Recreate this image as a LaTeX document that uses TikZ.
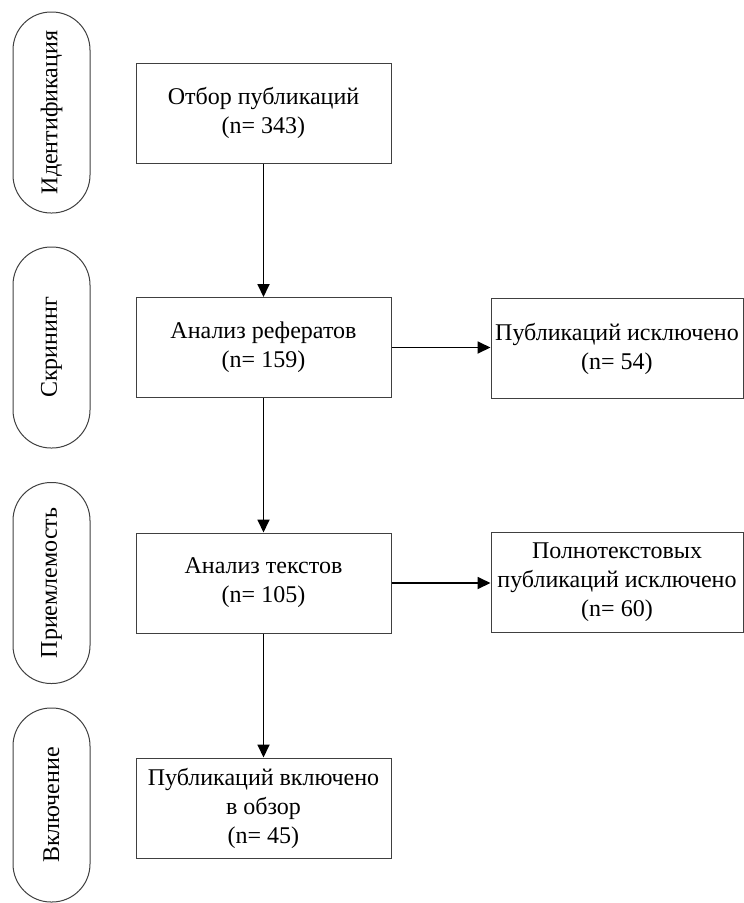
\documentclass[tikz,border=0pt]{standalone}
\usepackage{fontspec}
\setmainfont{Liberation Serif}
\usetikzlibrary{arrows.meta}
\tikzset{
  stage/.style={draw=black!75, line width=1pt, rotate=90, rounded corners=38pt,
    minimum width=201pt, minimum height=77pt, inner sep=0pt,
    font=\fontsize{24}{29}\selectfont},
  box/.style={draw=black!75, line width=1pt, align=center, inner sep=0pt,
    minimum width=255pt, minimum height=100pt, font=\fontsize{24}{29}\selectfont},
  sidebox/.style={box, minimum width=252pt},
  flow/.style={line width=1.8pt, -{Triangle[length=13pt,width=12pt]}}
}

\begin{document}
\begin{tikzpicture}[x=1pt, y=-1pt]
		%%%%% START %%%%%
		\useasboundingbox (0,0) rectangle (744,903);
		
		% stages on the left
		\node[stage] (ident) at (51.5, 112.5) {Идентификация};
		\node[stage] (screen) at (51.5, 347.5) {Скрининг};
		\node[stage] (elig) at (51.5, 583) {Приемлемость};
		\node[stage, minimum width=194pt] (incl) at (51.5, 805) {Включение};
		
		% main column
		\node[box] (select) at (263.5, 113) {Отбор публикаций\\(n= 343)};
		\node[box] (abstr) at (263.5, 347.5) {Анализ рефератов\\(n= 159)};
		\node[box] (texts) at (263.5, 583) {Анализ текстов\\(n= 105)};
		\node[box] (final) at (263.5, 808) {Публикаций включено\\в обзор\\(n= 45)};
		
		% excluded
		\node[sidebox] (excl1) at (617, 348.5) {Публикаций исключено\\(n= 54)};
		\node[sidebox] (excl2) at (617, 582.5) {Полнотекстовых\\публикаций исключено\\(n= 60)};
		
		\draw[flow] (select) -- (abstr);
		\draw[flow] (abstr) -- (texts);
		\draw[flow] (texts) -- (final);
		\draw[flow] (abstr.east) -- (abstr.east -| excl1.west);
		\draw[flow] (texts.east) -- (texts.east -| excl2.west);
		
		%%%%% END %%%%%
\end{tikzpicture}
\end{document}
